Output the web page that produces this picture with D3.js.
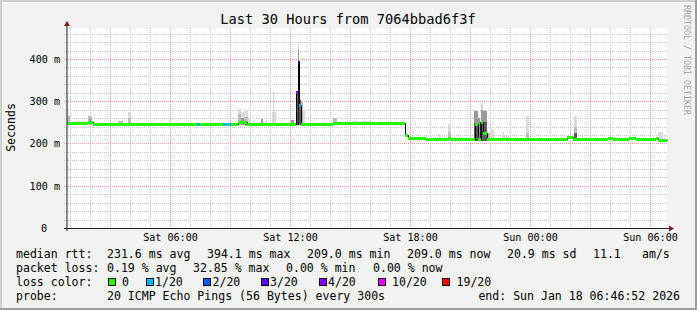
<!DOCTYPE html>
<html>
<head>
<meta charset="utf-8">
<script src="https://cdn.jsdelivr.net/npm/d3@7"></script>
<style>
html, body { margin: 0; padding: 0; background: #f2f2f2; }
svg { display: block; font-family: "DejaVu Sans Mono", monospace; }
text { white-space: pre; }
</style>
</head>
<body>
<svg id="chart" width="697" height="310"></svg>
<script>
// ---- data ----
const title = "Last 30 Hours from 7064bbad6f3f";
const timeStart = "2026-01-17 00:49";
const timeEnd = "2026-01-18 06:49";
const yTicks = [0, 100, 200, 300, 400];
const yMax = 474.5;

const lossLabels = ["0", "1/20", "2/20", "3/20", "4/20", "10/20", "19/20"];
const lossColors = ["#26ff00", "#00b8ff", "#0059ff", "#5e00ff", "#7e00ff", "#dd00ff", "#ff0000"];
const smokeShades = ["#dadada", "#bcbcbc", "#9a9a9a", "#5c5c5c", "#1c1c1c"];

// median rtt runs: [from, to, ms, loss index]
const medianRuns = [
  ["17 00:49", "17 01:52", 247.5, 0],
  ["17 01:52", "17 02:07", 252, 0],
  ["17 02:07", "17 07:19", 247, 0],
  ["17 07:19", "17 07:29", 247, 1],
  ["17 07:29", "17 08:37", 247, 0],
  ["17 08:37", "17 08:48", 247, 1],
  ["17 08:48", "17 08:52", 247, 0],
  ["17 08:52", "17 09:02", 247, 1],
  ["17 09:02", "17 09:22", 247, 0],
  ["17 09:22", "17 09:49", 251, 0],
  ["17 09:49", "17 12:16", 247, 0],
  ["17 12:16", "17 12:21", 321, 4],
  ["17 12:21", "17 12:26", 394.1, 3],
  ["17 12:26", "17 12:31", 291, 1],
  ["17 12:31", "17 14:07", 247, 0],
  ["17 14:07", "17 17:16", 248.5, 0],
  ["17 17:16", "17 17:43", 249.5, 0],
  ["17 17:43", "17 17:52", 220, 0],
  ["17 17:52", "17 18:46", 213, 0],
  ["17 18:46", "17 19:52", 210, 0],
  ["17 19:52", "17 20:01", 212, 0],
  ["17 20:01", "17 21:13", 210, 0],
  ["17 21:13", "17 21:22", 247, 0],
  ["17 21:22", "17 21:31", 210, 0],
  ["17 21:31", "17 21:37", 252, 0],
  ["17 21:37", "17 21:49", 224, 0],
  ["17 21:49", "18 01:49", 210, 0],
  ["18 01:49", "18 02:07", 215, 0],
  ["18 02:07", "18 03:52", 210, 0],
  ["18 03:52", "18 04:07", 213, 0],
  ["18 04:07", "18 04:55", 210, 0],
  ["18 04:55", "18 05:16", 212, 0],
  ["18 05:16", "18 06:16", 209.5, 0],
  ["18 06:16", "18 06:22", 213, 0],
  ["18 06:22", "18 06:49", 209, 0]
];

// smoke bands: [from, to, low ms, high ms, shade index]
const smoke = [
  ["17 00:49", "17 00:52", 244, 307, 0],
  ["17 00:49", "17 00:58", 244, 266, 1],
  ["17 01:19", "17 01:28", 245, 255, 0],
  ["17 01:52", "17 02:04", 246, 267, 1],
  ["17 01:55", "17 02:01", 248, 260, 2],
  ["17 03:22", "17 03:37", 245, 255, 1],
  ["17 03:52", "17 04:01", 245, 276, 0],
  ["17 03:52", "17 04:01", 245, 262, 1],
  ["17 05:55", "17 06:01", 245, 260, 0],
  ["17 09:22", "17 09:31", 245, 283, 0],
  ["17 09:22", "17 09:31", 245, 270, 1],
  ["17 09:31", "17 09:40", 245, 275, 0],
  ["17 09:31", "17 09:40", 245, 262, 2],
  ["17 09:40", "17 09:52", 245, 281, 0],
  ["17 09:40", "17 09:52", 245, 265, 1],
  ["17 09:43", "17 09:49", 245, 255, 3],
  ["17 09:52", "17 09:58", 245, 262, 0],
  ["17 10:31", "17 10:37", 245, 260, 2],
  ["17 10:43", "17 10:49", 245, 255, 0],
  ["17 11:04", "17 11:16", 245, 276, 0],
  ["17 11:07", "17 11:10", 245, 324, 0],
  ["17 12:00", "17 12:09", 245, 257, 2],
  ["17 12:16", "17 12:21", 244, 326, 2],
  ["17 12:16", "17 12:21", 244, 321, 3],
  ["17 12:21", "17 12:26", 244, 441, 0],
  ["17 12:21", "17 12:26", 244, 424, 2],
  ["17 12:21", "17 12:26", 244, 395, 4],
  ["17 12:26", "17 12:31", 244, 305, 3],
  ["17 12:31", "17 12:36", 244, 301, 1],
  ["17 12:36", "17 12:42", 244, 281, 0],
  ["17 13:07", "17 13:13", 245, 250, 0],
  ["17 13:37", "17 13:49", 245, 250, 0],
  ["17 14:07", "17 14:19", 246, 262, 1],
  ["17 14:49", "17 14:58", 246, 255, 0],
  ["17 15:04", "17 15:22", 246, 255, 0],
  ["17 15:34", "17 15:58", 246, 255, 0],
  ["17 19:25", "17 19:31", 208, 224, 0],
  ["17 19:52", "17 20:01", 208, 248, 0],
  ["17 19:52", "17 20:01", 208, 229, 1],
  ["17 21:10", "17 21:22", 208, 279, 2],
  ["17 21:10", "17 21:22", 208, 250, 3],
  ["17 21:22", "17 21:28", 208, 262, 2],
  ["17 21:28", "17 21:31", 208, 252, 4],
  ["17 21:31", "17 21:37", 208, 298, 0],
  ["17 21:31", "17 21:37", 208, 281, 2],
  ["17 21:31", "17 21:37", 208, 252, 3],
  ["17 21:37", "17 21:49", 208, 277, 2],
  ["17 21:37", "17 21:49", 208, 252, 3],
  ["17 21:49", "17 21:58", 208, 227, 1],
  ["17 21:58", "17 22:10", 208, 232, 0],
  ["17 22:34", "17 22:40", 208, 229, 0],
  ["17 22:40", "17 22:55", 208, 219, 0],
  ["17 23:46", "17 23:55", 208, 267, 0],
  ["17 23:46", "17 23:55", 208, 225, 1],
  ["18 02:10", "18 02:19", 208, 267, 0],
  ["18 02:10", "18 02:19", 208, 240, 1],
  ["18 02:10", "18 02:19", 208, 225, 3],
  ["18 04:55", "18 05:01", 208, 220, 0],
  ["18 06:22", "18 06:37", 208, 228, 0]
];

const rttStats = ["231.6 ms avg", "394.1 ms max", "209.0 ms min", "209.0 ms now", "20.9 ms sd", "11.1", "am/s"];
const lossStats = ["0.19 % avg", "32.85 % max", "0.00 % min", "0.00 % now"];
const probeText = "20 ICMP Echo Pings (56 Bytes) every 300s";
const endText = "end: Sun Jan 18 06:46:52 2026";

// ---- layout ----
const W = 697, H = 310;
const plotL = 67, plotR = 667, plotT = 28, plotB = 228;

const parse = d3.timeParse("%Y-%m-%d %H:%M");
const t = s => parse("2026-01-" + s);

const svg = d3.select("#chart");

const x = d3.scaleTime()
  .domain([parse(timeStart), parse(timeEnd)])
  .range([plotL, plotR]);
const y = d3.scaleLinear()
  .domain([0, yMax])
  .range([plotB + 0.5, plotT]);

const snap = v => Math.round(v - 0.5) + 0.5;

// frame
svg.append("rect").attr("width", W).attr("height", H).attr("fill", "#f2f2f2");
svg.append("rect").attr("width", W).attr("height", 2).attr("fill", "#cfcfcf");
svg.append("rect").attr("width", 2).attr("height", H).attr("fill", "#cfcfcf");
svg.append("rect").attr("y", H - 2).attr("width", W).attr("height", 2).attr("fill", "#9e9e9e");
svg.append("rect").attr("x", W - 2).attr("width", 2).attr("height", H).attr("fill", "#9e9e9e");

// canvas
svg.append("rect")
  .attr("x", plotL).attr("y", plotT)
  .attr("width", plotR - plotL).attr("height", plotB - plotT)
  .attr("fill", "#ffffff");

// grid
const grid = svg.append("g").attr("stroke-dasharray", "1,1").attr("stroke-width", 1);
const minorY = d3.range(20, yMax, 20).filter(v => v % 100 !== 0);
grid.selectAll(".hmin").data(minorY).join("line")
  .attr("x1", plotL - 3).attr("x2", plotR)
  .attr("y1", d => snap(y(d))).attr("y2", d => snap(y(d)))
  .attr("stroke", "#c8c8c8");
const hours = x.ticks(d3.timeHour.every(1));
grid.selectAll(".vmin").data(hours.filter(d => d.getHours() % 3 !== 0)).join("line")
  .attr("x1", d => Math.floor(x(d)) + 0.5).attr("x2", d => Math.floor(x(d)) + 0.5)
  .attr("y1", plotT).attr("y2", plotB)
  .attr("stroke", "#c8c8c8");
grid.selectAll(".vmaj").data(hours.filter(d => d.getHours() % 3 === 0)).join("line")
  .attr("x1", d => Math.floor(x(d)) + 0.5).attr("x2", d => Math.floor(x(d)) + 0.5)
  .attr("y1", plotT).attr("y2", plotB)
  .attr("stroke", "#ee9f9f");
grid.selectAll(".hmaj").data(yTicks.filter(d => d > 0)).join("line")
  .attr("x1", plotL - 3).attr("x2", plotR)
  .attr("y1", d => snap(y(d))).attr("y2", d => snap(y(d)))
  .attr("stroke", "#ee9f9f");

// smoke
svg.append("g").selectAll("rect").data(smoke).join("rect")
  .attr("x", d => Math.round(x(t(d[0]))))
  .attr("width", d => Math.max(1, Math.round(x(t(d[1]))) - Math.round(x(t(d[0])))))
  .attr("y", d => Math.round(y(d[3])))
  .attr("height", d => Math.max(1, Math.round(y(d[2])) - Math.round(y(d[3]))))
  .attr("fill", d => smokeShades[d[4]]);

// median step connectors
const stepPts = medianRuns.map(d => [t(d[0]), d[2]]);
stepPts.push([t(medianRuns[medianRuns.length - 1][1]), medianRuns[medianRuns.length - 1][2]]);
svg.append("path")
  .attr("d", d3.line()
    .x(d => Math.round(x(d[0])) + 0.5)
    .y(d => snap(y(d[1])))
    .curve(d3.curveStepAfter)(stepPts))
  .attr("fill", "none").attr("stroke", "#000").attr("stroke-width", 1);

// median coloured by loss
svg.append("g").selectAll("line").data(medianRuns).join("line")
  .attr("x1", d => Math.round(x(t(d[0])))).attr("x2", d => Math.round(x(t(d[1]))))
  .attr("y1", d => snap(y(d[2]))).attr("y2", d => snap(y(d[2])))
  .attr("stroke", d => lossColors[d[3]]).attr("stroke-width", 3);

// axes
const axisCol = "#1f1f1f", arrowCol = "#7f1f1f";
svg.append("line").attr("x1", plotL).attr("x2", plotL).attr("y1", plotB + 3).attr("y2", plotT - 4)
  .attr("stroke", axisCol);
svg.append("line").attr("x1", plotL - 3).attr("x2", plotR + 2).attr("y1", plotB + 0.5).attr("y2", plotB + 0.5)
  .attr("stroke", axisCol);
svg.append("path").attr("d", `M${plotL - 3},${plotT - 2}L${plotL},${plotT - 7}L${plotL + 3},${plotT - 2}Z`).attr("fill", arrowCol);
svg.append("path").attr("d", `M${plotR + 2},${plotB - 2.5}L${plotR + 7},${plotB + 0.5}L${plotR + 2},${plotB + 3.5}Z`).attr("fill", arrowCol);

// y labels
svg.append("g").selectAll("text").data(yTicks).join("text")
  .attr("x", d => d === 0 ? 47 : 60)
  .attr("y", d => snap(y(d)) + 3.5)
  .attr("text-anchor", "end")
  .attr("font-size", "10.1px")
  .text(d => d === 0 ? "0" : d + " m");

// x labels
svg.append("g").selectAll("text").data(x.ticks(d3.timeHour.every(6))).join("text")
  .attr("x", d => Math.floor(x(d)) + 0.5)
  .attr("y", 241)
  .attr("text-anchor", "middle")
  .attr("font-size", "10.1px")
  .text(d3.timeFormat("%a %H:%M"));

// title and side texts
svg.append("text").attr("x", 348).attr("y", 24).attr("text-anchor", "middle")
  .attr("font-size", "13.7px").text(title);
svg.append("text").attr("transform", "translate(15,127.5) rotate(-90)")
  .attr("text-anchor", "middle").attr("font-size", "11.55px").text("Seconds");
svg.append("text").attr("transform", "translate(684,5) rotate(90)")
  .attr("font-size", "8.3px").attr("fill", "#a8a8a8").text("RRDTOOL / TOBI OETIKER");

// legend
const lg = svg.append("g").attr("font-size", "11.55px");
const rows = [258, 272, 286, 300];
lg.append("text").attr("x", 16).attr("y", rows[0]).text("median rtt:");
const rttX = [107, 207, 307, 407, 507, 593, 642];
lg.selectAll(".rtt").data(rttStats).join("text")
  .attr("x", (d, i) => rttX[i]).attr("y", rows[0]).text(d => d);

lg.append("text").attr("x", 16).attr("y", rows[1]).text("packet loss:");
const lossX = [107, 193, 286, 373];
lg.selectAll(".loss").data(lossStats).join("text")
  .attr("x", (d, i) => lossX[i]).attr("y", rows[1]).text(d => d);

lg.append("text").attr("x", 16).attr("y", rows[2]).text("loss color:");
const boxX = [108, 146, 203, 261, 319, 378, 442];
const labX = [122, 155, 212.5, 270, 328, 392, 456.5];
lg.selectAll(".box").data(lossColors).join("rect")
  .attr("x", (d, i) => boxX[i] + 0.5).attr("y", 278.5)
  .attr("width", 7).attr("height", 7)
  .attr("fill", d => d).attr("stroke", "#000");
lg.selectAll(".lab").data(lossLabels).join("text")
  .attr("x", (d, i) => labX[i]).attr("y", rows[2]).text(d => d);

lg.append("text").attr("x", 16).attr("y", rows[3]).text("probe:");
lg.append("text").attr("x", 107).attr("y", rows[3]).text(probeText);
lg.append("text").attr("x", 680).attr("y", rows[3]).attr("text-anchor", "end").text(endText);
</script>
</body>
</html>
